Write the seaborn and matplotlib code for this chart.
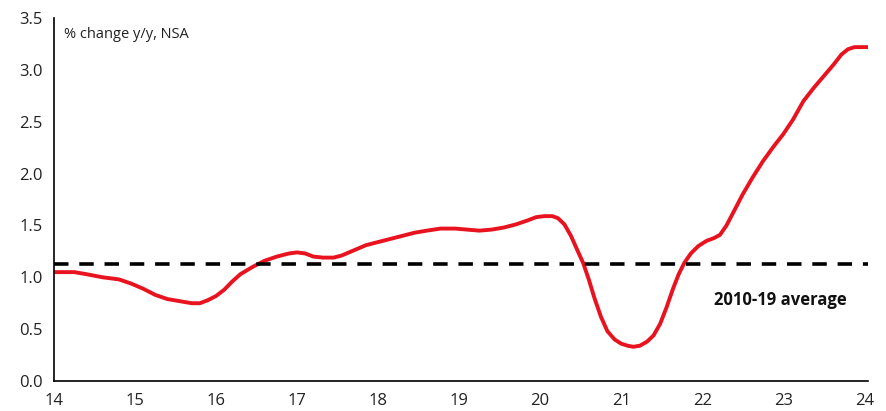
import matplotlib
matplotlib.use("Agg")
import matplotlib.pyplot as plt
import seaborn as sns
import pandas as pd

# Values (year as 2-digit decimal, % change y/y)
years = [14.00, 14.25, 14.40, 14.60, 14.80, 14.95, 15.10, 15.25, 15.40, 15.55,
         15.70, 15.80, 15.90, 16.00, 16.10, 16.20, 16.30, 16.45, 16.60, 16.75,
         16.90, 17.00, 17.10, 17.20, 17.32, 17.45, 17.55, 17.70, 17.85, 18.00,
         18.15, 18.30, 18.45, 18.60, 18.77, 18.95, 19.10, 19.25, 19.40, 19.55,
         19.70, 19.85, 19.95, 20.05, 20.15, 20.22, 20.30, 20.38, 20.46, 20.53,
         20.60, 20.67, 20.75, 20.83, 20.92, 21.00, 21.08, 21.15, 21.23, 21.32,
         21.40, 21.48, 21.56, 21.64, 21.71, 21.78, 21.86, 21.95, 22.05, 22.15,
         22.22, 22.30, 22.40, 22.50, 22.62, 22.75, 22.88, 23.00, 23.12, 23.25,
         23.38, 23.50, 23.62, 23.72, 23.80, 23.88, 24.05]
pct_change = [1.05, 1.05, 1.03, 1.00, 0.98, 0.94, 0.89, 0.83, 0.79, 0.77,
              0.75, 0.75, 0.78, 0.82, 0.88, 0.96, 1.03, 1.10, 1.16, 1.20,
              1.23, 1.24, 1.23, 1.20, 1.19, 1.19, 1.21, 1.26, 1.31, 1.34,
              1.37, 1.40, 1.43, 1.45, 1.47, 1.47, 1.46, 1.45, 1.46, 1.48,
              1.51, 1.55, 1.58, 1.59, 1.59, 1.57, 1.51, 1.40, 1.26, 1.14,
              0.98, 0.80, 0.62, 0.48, 0.40, 0.36, 0.34, 0.33, 0.34, 0.38,
              0.44, 0.55, 0.71, 0.89, 1.03, 1.14, 1.23, 1.30, 1.35, 1.38,
              1.41, 1.50, 1.65, 1.80, 1.96, 2.12, 2.26, 2.38, 2.52, 2.70,
              2.83, 2.94, 3.05, 3.15, 3.20, 3.22, 3.22]
avg_2010_19 = 1.13
x_ticks = [14, 15, 16, 17, 18, 19, 20, 21, 22, 23, 24]
y_ticks = [0.0, 0.5, 1.0, 1.5, 2.0, 2.5, 3.0, 3.5]

df = pd.DataFrame({"year": years, "pct": pct_change})

sns.set_style("white")
plt.rcParams["font.family"] = ["Open Sans", "DejaVu Sans"]

fig = plt.figure(figsize=(8.86, 4.11), dpi=100)
ax = fig.add_axes([0.061, 0.073, 0.919, 0.883])

sns.lineplot(data=df, x="year", y="pct", color="#e8131f", linewidth=2.8, ax=ax)
ax.lines[0].set_solid_joinstyle("round")
ax.lines[0].set_solid_capstyle("round")
ax.axhline(avg_2010_19, color="black", linewidth=2.6, linestyle=(0, (4, 3)))

ax.set_xlim(14, 24.05)
ax.set_ylim(0, 3.5)
ax.set_xticks(x_ticks)
ax.set_xticklabels([str(t) for t in x_ticks])
ax.set_yticks(y_ticks)
ax.set_yticklabels([f"{t:.1f}" for t in y_ticks])
ax.set_xlabel("")
ax.set_ylabel("")

for s in ["top", "right"]:
    ax.spines[s].set_visible(False)
for s in ["left", "bottom"]:
    ax.spines[s].set_color("black")
    ax.spines[s].set_linewidth(1.2)

ax.tick_params(axis="y", direction="in", length=5, width=1.2, labelsize=12,
               colors="#222222", pad=8)
ax.tick_params(axis="x", direction="out", length=5, width=1.2, labelsize=12,
               colors="#222222", pad=4)
ax.tick_params(axis="both", color="black")

ax.text(0.012, 0.975, "% change y/y, NSA", transform=ax.transAxes,
        fontsize=10.5, color="#222222", va="top", ha="left")
ax.text(22.15, 0.78, "2010-19 average", fontsize=12, fontweight="bold",
        color="#111111", va="center", ha="left")

fig.savefig("out.png", dpi=100)
